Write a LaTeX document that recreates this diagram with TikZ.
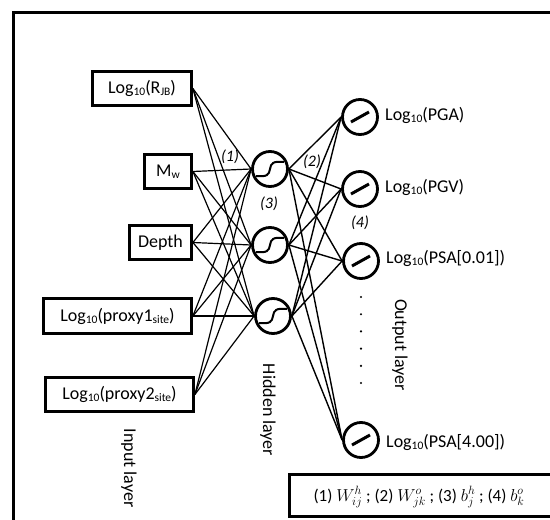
\documentclass[tikz,border=0pt]{standalone}
\usepackage{fontspec}
\setmainfont{Carlito}
% Office-style subscript: smaller and slightly lowered
\newcommand\lsub[1]{\raisebox{-0.12em}{\fontsize{11.5}{12}\selectfont #1}}
\begin{document}
\begin{tikzpicture}[x=1pt,y=-1pt,
  inbox/.style={draw, line width=2.8pt, inner sep=0pt, font=\fontsize{18}{21}\selectfont},
  neuron/.style={draw, circle, line width=2.8pt, minimum size=35pt, inner sep=0pt},
  wire/.style={line width=1.2pt},
  outlabel/.style={anchor=base west, inner sep=0pt, font=\fontsize{18}{21}\selectfont},
  layerlabel/.style={rotate=-90, inner sep=0pt, font=\fontsize{18}{21}\selectfont},
  tag/.style={inner sep=0pt, font=\fontsize{16}{18}\selectfont\itshape},
  sig/.pic={\draw[line width=2pt] (-14,7) .. controls (-3,8) and (-1,6) .. (0,0)
                                         .. controls (1,-6) and (3,-8) .. (14,-7);},
  lin/.pic={\draw[line width=3pt] (-9,5) -- (9,-5);}
]
\useasboundingbox (0,0) rectangle (550,520);
\clip (0,0) rectangle (550,520);

% outer frame (runs off the right and bottom edges)
\draw[line width=3pt] (13.5,12.5) rectangle (600,600);

% input layer
\node[inbox, minimum width=99pt,  minimum height=34pt] (in1) at (142,88.5)   {Log\lsub{10}(R\lsub{JB})};
\node[inbox, minimum width=47pt,  minimum height=34pt] (in2) at (168,171.5)  {M\lsub{w}};
\node[inbox, minimum width=62pt,  minimum height=34pt] (in3) at (160.5,242.5){Depth};
\node[inbox, minimum width=148pt, minimum height=35pt] (in4) at (117.5,316)  {Log\lsub{10}(proxy1\lsub{site})};
\node[inbox, minimum width=148pt, minimum height=34pt] (in5) at (119.5,394.5){Log\lsub{10}(proxy2\lsub{site})};

% hidden layer (sigmoid units)
\node[neuron] (h1) at (270,169) {};
\node[neuron] (h2) at (270,245) {};
\node[neuron] (h3) at (273,316) {};
\foreach \j in {1,2,3} \pic at (h\j) {sig};

% output layer (linear units)
\node[neuron] (o1) at (360,117) {};
\node[neuron] (o2) at (360,189) {};
\node[neuron] (o3) at (361,261) {};
\node[neuron] (o4) at (361,440) {};
\foreach \k in {1,2,3,4} \pic at (o\k) {lin};

% weights
\foreach \i in {1,...,5}
  \foreach \j in {1,2,3}
    \draw[wire] (in\i.east) -- (h\j.west);
\foreach \j in {1,2,3}
  \foreach \k in {1,2,3,4}
    \draw[wire, line width=1.4pt] (h\j.east) -- (o\k.west);

% output names
\node[outlabel] (l1) at (385,120) {Log\lsub{10}(PGA)};
\node[outlabel] (l2) at (385,192) {Log\lsub{10}(PGV)};
\node[outlabel] (l3) at (386,263) {Log\lsub{10}(PSA[0.01])};
\node[outlabel] (l4) at (386,447) {Log\lsub{10}(PSA[4.00])};

% elided outputs
\foreach \d in {0,...,5}
  \fill (361,297+17.2*\d) circle (1.2pt);

% parameter tags
\node[tag] (t1) at (230,157) {(1)};
\node[tag] (t2) at (312,162) {(2)};
\node[tag] (t3) at (269,204) {(3)};
\node[tag] (t4) at (360,223) {(4)};

% layer names
\node[layerlabel] (ninput)  at (129,468) {Input layer};
\node[layerlabel] (nhidden) at (268,410) {Hidden layer};
\node[layerlabel] (noutput) at (400,345) {Output layer};

% legend
\draw[line width=3pt] (289.5,474.5) rectangle (600,516.5);
\node[inner sep=0pt, font=\fontsize{17}{20}\selectfont] (legend) at (419,497)
  {(1) $W^h_{ij}$ ; (2) $W^o_{jk}$ ; (3) $b^h_j$ ; (4) $b^o_k$};
\end{tikzpicture}
\end{document}
